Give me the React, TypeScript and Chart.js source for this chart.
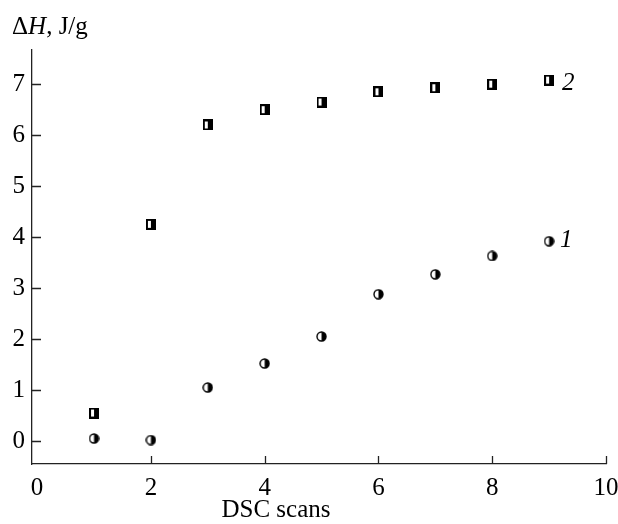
import React, { useEffect, useRef } from "react";
import { Chart, registerables } from "chart.js";

Chart.register(...registerables);

const scans = [1, 2, 3, 4, 5, 6, 7, 8, 9];
const series1 = [0.05, 0.02, 1.05, 1.52, 2.05, 2.88, 3.27, 3.63, 3.92];
const series2 = [0.55, 4.25, 6.2, 6.5, 6.65, 6.85, 6.93, 7.0, 7.08];
const xTicks = [0, 2, 4, 6, 8, 10];
const yTicks = [0, 1, 2, 3, 4, 5, 6, 7];
const seriesLabels = ["1", "2"];
const FONT = "'Liberation Serif', 'DejaVu Serif', serif";

function makeSquare(): HTMLCanvasElement {
  const c = document.createElement("canvas");
  c.width = 10;
  c.height = 11;
  const g = c.getContext("2d")!;
  g.fillStyle = "#000";
  g.fillRect(0, 0, 10, 11);
  g.fillStyle = "#fff";
  g.fillRect(2, 2, 3, 7);
  return c;
}

function makeCircle(): HTMLCanvasElement {
  const c = document.createElement("canvas");
  c.width = 11;
  c.height = 11;
  const g = c.getContext("2d")!;
  g.beginPath();
  g.arc(5.5, 5.5, 4.5, 0, Math.PI * 2);
  g.fillStyle = "#fff";
  g.fill();
  g.beginPath();
  g.arc(5.5, 5.5, 4.5, -Math.PI / 2, Math.PI / 2);
  g.closePath();
  g.fillStyle = "#000";
  g.fill();
  g.beginPath();
  g.arc(5.5, 5.5, 4.5, 0, Math.PI * 2);
  g.lineWidth = 1.4;
  g.strokeStyle = "#000";
  g.stroke();
  return c;
}

const decorPlugin = {
  id: "decor",
  afterDraw(chart: any) {
    const ctx = chart.ctx;
    const xs = chart.scales.x;
    const ys = chart.scales.y;
    const area = chart.chartArea;
    ctx.save();
    ctx.strokeStyle = "#222";
    ctx.lineWidth = 1.3;
    ctx.beginPath();
    yTicks.forEach((v) => {
      const py = Math.round(ys.getPixelForValue(v)) + 0.5;
      ctx.moveTo(area.left, py);
      ctx.lineTo(area.left + 9, py);
    });
    xTicks.forEach((v) => {
      if (v === 0) return;
      const px = Math.round(xs.getPixelForValue(v)) + 0.5;
      ctx.moveTo(px, area.bottom);
      ctx.lineTo(px, area.bottom - 8);
    });
    ctx.stroke();

    // series labels
    ctx.fillStyle = "#000";
    ctx.font = `italic 25px ${FONT}`;
    ctx.textBaseline = "middle";
    ctx.textAlign = "left";
    const last = scans.length - 1;
    ctx.fillText(seriesLabels[1], xs.getPixelForValue(scans[last]) + 13, ys.getPixelForValue(series2[last]) + 3);
    ctx.fillText(seriesLabels[0], xs.getPixelForValue(scans[last]) + 11, ys.getPixelForValue(series1[last]) - 1);

    // y title
    ctx.textBaseline = "alphabetic";
    let x = 12;
    const yb = 34;
    ctx.font = `25px ${FONT}`;
    ctx.fillText("Δ", x, yb);
    x += ctx.measureText("Δ").width;
    ctx.font = `italic 25px ${FONT}`;
    ctx.fillText("H", x, yb);
    x += ctx.measureText("H").width;
    ctx.font = `25px ${FONT}`;
    ctx.fillText(", J/g", x, yb);

    // x title
    ctx.textAlign = "center";
    ctx.font = `25px ${FONT}`;
    ctx.fillText("DSC scans", area.left + 244, 517);
    ctx.restore();
  },
};

export default function App() {
  const ref = useRef<HTMLCanvasElement>(null);
  useEffect(() => {
    document.body.style.margin = "0";
    const sq = makeSquare();
    const ci = makeCircle();
    const chart = new Chart(ref.current!, {
      type: "scatter",
      data: {
        datasets: [
          {
            label: seriesLabels[0],
            data: scans.map((s, i) => ({ x: s, y: series1[i] })),
            pointStyle: ci as any,
            pointRadius: 5,
            showLine: false,
          },
          {
            label: seriesLabels[1],
            data: scans.map((s, i) => ({ x: s, y: series2[i] })),
            pointStyle: sq as any,
            pointRadius: 5,
            showLine: false,
          },
        ],
      },
      options: {
        animation: false,
        responsive: false,
        maintainAspectRatio: false,
        layout: { padding: { top: 50, right: 12, left: 0, bottom: 0 } },
        plugins: { legend: { display: false }, tooltip: { enabled: false } },
        scales: {
          x: {
            type: "linear",
            min: -0.09,
            max: 10,
            afterBuildTicks: (s: any) => {
              s.ticks = xTicks.map((v) => ({ value: v }));
            },
            afterFit: (s: any) => {
              s.height = 60;
              s.paddingLeft = 0;
              s.paddingRight = 0;
            },
            grid: { display: false, drawTicks: false },
            border: { display: true, color: "#222", width: 1.3 },
            ticks: {
              color: "#000",
              padding: 9,
              maxRotation: 0,
              font: { family: FONT, size: 25 },
            },
          },
          y: {
            type: "linear",
            min: -0.45,
            max: 7.67,
            afterBuildTicks: (s: any) => {
              s.ticks = yTicks.map((v) => ({ value: v }));
            },
            afterFit: (s: any) => {
              s.width = 32;
              s.paddingTop = 0;
              s.paddingBottom = 0;
            },
            grid: { display: false, drawTicks: false },
            border: { display: true, color: "#222", width: 1.3 },
            ticks: {
              color: "#000",
              padding: 7,
              font: { family: FONT, size: 25 },
            },
          },
        },
      },
      plugins: [decorPlugin],
    });
    return () => chart.destroy();
  }, []);
  return (
    <div style={{ width: 618, height: 524 }}>
      <canvas ref={ref} width={618} height={524} style={{ display: "block" }} />
    </div>
  );
}
